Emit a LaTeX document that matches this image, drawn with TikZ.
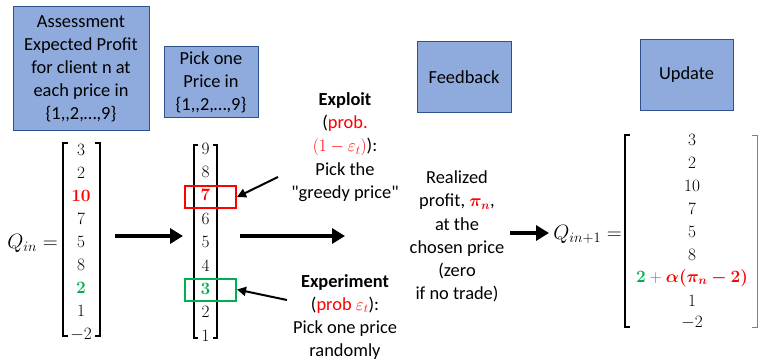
\documentclass[tikz,border=0pt]{standalone}
\usepackage{amsmath,bm}
\usepackage[no-math]{fontspec}
\setmainfont{Carlito}
\newfontfamily\plainfont{Carlito}
\usetikzlibrary{arrows.meta}
\definecolor{boxblue}{HTML}{8FAADC}
\definecolor{boxedge}{HTML}{2F528F}
\definecolor{pred}{HTML}{FF0000}
\definecolor{pgreen}{HTML}{00B050}
\begin{document}
\begin{tikzpicture}[x=1pt,y=-1pt,
  stepbox/.style={draw=boxedge, fill=boxblue, line width=1pt, align=center, inner sep=0pt, font=\fontsize{18.4}{23}\selectfont},
  txt/.style={align=center, inner sep=0pt, font=\fontsize{18.4}{23.2}\selectfont},
  entry/.style={inner sep=0pt, font=\fontsize{18}{22}\selectfont},
  qlabel/.style={inner sep=0pt, anchor=base east, font=\fontsize{21.5}{24}\selectfont},
  bigarrow/.style={line width=4pt, -{Triangle[length=13pt,width=15pt]}},
  smallarrow/.style={line width=2pt, -{Triangle[length=9pt,width=9pt]}},
  brk/.style={line width=1.5pt},
  selbox/.style={line width=2pt, minimum width=51pt, minimum height=22pt, inner sep=0pt},
]
\fill[white] (0,0) rectangle (759,361);
\useasboundingbox (0,0) rectangle (759,361);

% header boxes
\node[stepbox, minimum width=136pt, minimum height=123pt] (assess) at (81,68.5)
  {Assessment\\Expected Profit\\for client n at\\each price in\\{\plainfont\{1,,2,…,9\}}};
\node[stepbox, minimum width=94pt, minimum height=70pt] (pick) at (211,82)
  {Pick one\\Price in\\{\plainfont\{1,,2,…,9\}}};
\node[stepbox, minimum width=94pt, minimum height=70pt] (feedback) at (464,77) {Feedback};
\node[stepbox, minimum width=93pt, minimum height=70pt] (update) at (686.5,75) {Update};

% matrix 1
\node[qlabel] (qin) at (58,248) {$Q_{in} =$};
\draw[brk] (68,143) -- (63,143) -- (63,336) -- (68,336);
\draw[brk] (95,143) -- (100,143) -- (100,336) -- (95,336);
\node[entry] (a1) at (81,149.5) {$3$};
\node[entry] (a2) at (81,172.6) {$2$};
\node[entry] (a3) at (81,195.7) {\color{pred}$\mathbf{10}$};
\node[entry] (a4) at (81,218.8) {$7$};
\node[entry] (a5) at (81,241.9) {$5$};
\node[entry] (a6) at (81,265.0) {$8$};
\node[entry] (a7) at (81,288.1) {\color{pgreen}$\mathbf{2}$};
\node[entry] (a8) at (81,311.2) {$1$};
\node[entry] (a9) at (81,334.3) {$-2$};

% matrix 2
\draw[brk] (198,145) -- (194,145) -- (194,338) -- (198,338);
\draw[brk] (213,145) -- (217,145) -- (217,338) -- (213,338);
\node[entry] (b9) at (205.5,148.5) {$9$};
\node[entry] (b8) at (205.5,171.9) {$8$};
\node[entry] (b7) at (205.5,195.3) {\color{pred}$\mathbf{7}$};
\node[entry] (b6) at (205.5,218.7) {$6$};
\node[entry] (b5) at (205.5,242.1) {$5$};
\node[entry] (b4) at (205.5,265.5) {$4$};
\node[entry] (b3) at (205.5,288.9) {\color{pgreen}$\mathbf{3}$};
\node[entry] (b2) at (205.5,312.3) {$2$};
\node[entry] (b1) at (205.5,335.7) {$1$};
\node[selbox, draw=pred] (redbox) at (210.5,197) {};
\node[selbox, draw=pgreen] (greenbox) at (210.5,289.5) {};

% explanation texts
\node[txt] (exploit) at (345,147)
  {\textbf{Exploit}\\(\textcolor{pred}{prob.}\\\textcolor{pred}{$(1-\varepsilon_t)$}):\\Pick the\\{\plainfont"greedy price"}};
\node[txt] (experiment) at (345,317)
  {\textbf{Experiment}\\(\textcolor{pred}{prob $\varepsilon_t$}):\\Pick one price\\randomly};
\node[txt] (realized) at (457,236.5)
  {Realized\\profit, \textcolor{pred}{$\bm{\pi_n}$},\\at the\\chosen price\\(zero\\if no trade)};

% updated matrix
\node[qlabel] (qin1) at (622,239) {$Q_{in+1} =$};
\draw[brk] (630,135) -- (625,135) -- (625,327) -- (630,327);
\draw[line width=0.8pt, gray] (752,135) -- (757,135) -- (757,327) -- (752,327);
\node[entry] (c1) at (692,140) {$3$};
\node[entry] (c2) at (692,163) {$2$};
\node[entry] (c3) at (692,186) {$10$};
\node[entry] (c4) at (692,209) {$7$};
\node[entry] (c5) at (692,232) {$5$};
\node[entry] (c6) at (692,255) {$8$};
\node[entry] (c7) at (692,278) {${\color{pgreen}\mathbf{2}}\mathbin{\color{pgreen}+}{\color{pred}\bm{\alpha(\pi_n-2)}}$};
\node[entry] (c8) at (692,301) {$1$};
\node[entry] (c9) at (692,323) {$-2$};

% connectors
\coordinate (s1) at (115,236);
\coordinate (e1) at (183,236);
\coordinate (s2) at (240,236);
\coordinate (e2) at (345,236);
\coordinate (s3) at (510,233);
\coordinate (e3) at (549,233);
\coordinate (ex1) at (278,177);
\coordinate (ex2) at (287,300);
\draw[bigarrow] (s1) -- (e1);
\draw[bigarrow] (s2) -- (e2);
\draw[bigarrow] (s3) -- (e3);
\draw[smallarrow] (ex1) -- (redbox.east);
\draw[smallarrow] (ex2) -- (greenbox.east);
\end{tikzpicture}
\end{document}
